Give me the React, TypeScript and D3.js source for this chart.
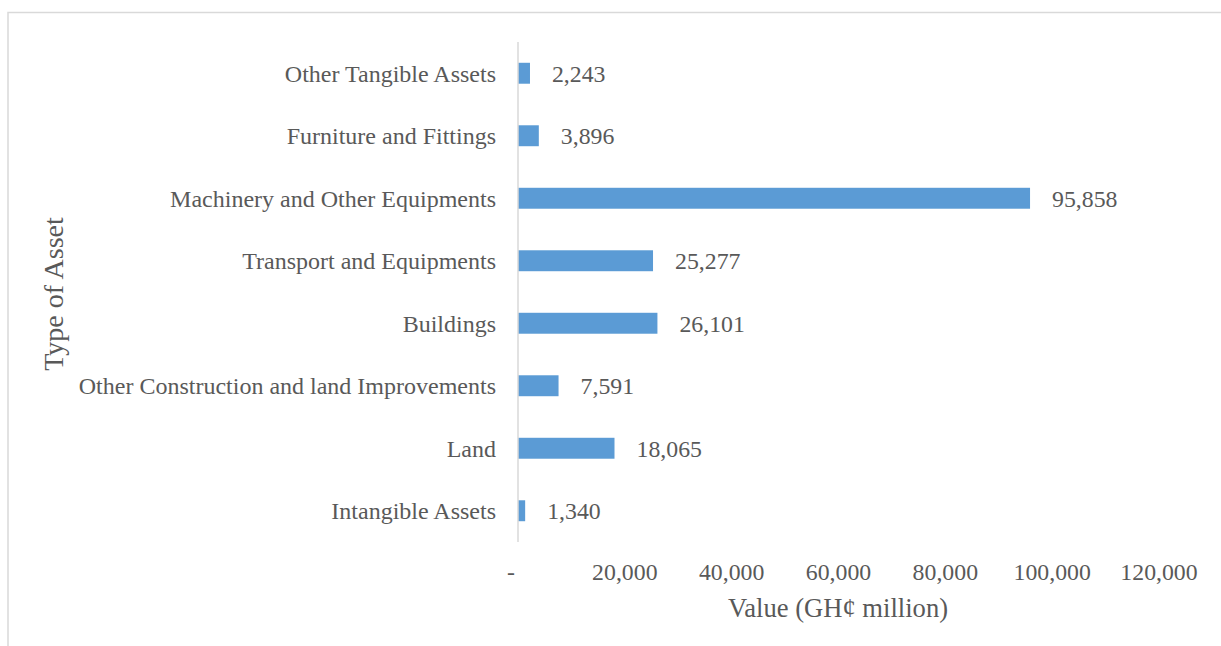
import React from "react";
import * as d3 from "d3";

const categories = [
  "Other Tangible Assets",
  "Furniture and Fittings",
  "Machinery and Other Equipments",
  "Transport and Equipments",
  "Buildings",
  "Other Construction and land Improvements",
  "Land",
  "Intangible Assets",
];
const values = [2243, 3896, 95858, 25277, 26101, 7591, 18065, 1340];
const xTicks = [0, 20000, 40000, 60000, 80000, 100000, 120000];
const xTitle = "Value (GH¢ million)";
const yTitle = "Type of Asset";

const W = 1221;
const H = 646;
const FONT = "'Liberation Serif', 'Times New Roman', serif";
const TXT = "#595959";
const BAR = "#5b9bd5";
const GRID = "#d9d9d9";

export default function App() {
  const x = d3.scaleLinear().domain([0, 120000]).range([518, 1159]);
  const y = d3.scaleBand().domain(categories).range([42, 542]).paddingInner(0.665).paddingOuter(0.3325);
  const fmt = d3.format(",");
  return (
    <svg width={W} height={H} style={{ position: "absolute", left: 0, top: 0, background: "#fff" }} fontFamily={FONT}>
      <rect x={8} y={12.5} width={W + 20} height={H + 20} fill="none" stroke={GRID} strokeWidth={1.5} />
      {categories.map((c, i) => (
        <g key={c}>
          <rect x={x(0)} y={y(c)} width={x(values[i]) - x(0)} height={y.bandwidth()} fill={BAR} />
          <text x={x(values[i]) + 22} y={y(c)! + y.bandwidth() / 2} dy="0.35em" fontSize={23.8} fill={TXT}>
            {fmt(values[i])}
          </text>
          <text x={496} y={y(c)! + y.bandwidth() / 2} dy="0.35em" fontSize={24} fill={TXT} textAnchor="end">
            {c}
          </text>
        </g>
      ))}
      <line x1={x(0)} x2={x(0)} y1={42} y2={542} stroke={GRID} strokeWidth={1.5} />
      {xTicks.map((t) => (
        <text key={t} x={x(t)} dx={t === 0 ? -7 : 0} y={580} fontSize={23.8} fill={TXT} textAnchor="middle">
          {t === 0 ? "-" : fmt(t)}
        </text>
      ))}
      <text x={838} y={617} fontSize={26.6} fill={TXT} textAnchor="middle">
        {xTitle}
      </text>
      <text transform={`translate(63,294) rotate(-90)`} fontSize={28} fill={TXT} textAnchor="middle">
        {yTitle}
      </text>
    </svg>
  );
}
